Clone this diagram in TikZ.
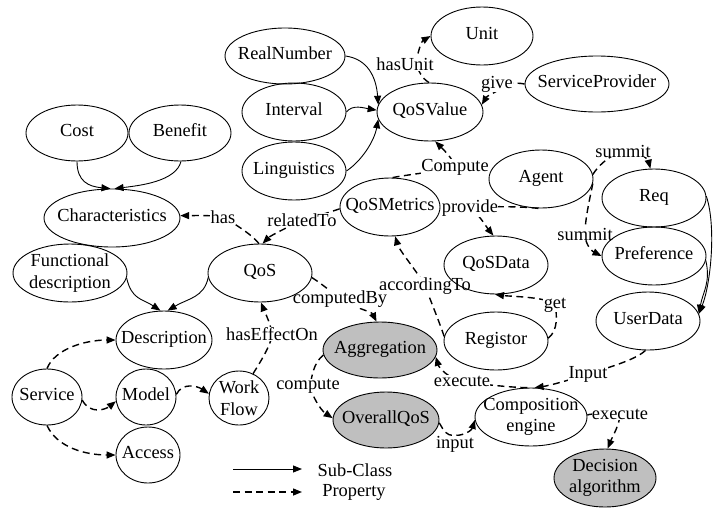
\documentclass[tikz,border=0pt]{standalone}
\usepackage{fontspec}
\setmainfont{Liberation Serif}
\usetikzlibrary{arrows.meta,backgrounds,shapes.geometric}
\newcommand\fsz{\fontsize{18.4}{21.5}\selectfont}
\begin{document}
\begin{tikzpicture}[x=1pt,y=-1pt,
  ent/.style={ellipse, draw, line width=0.9pt, inner sep=0pt},
  gent/.style={ent, fill=black!25},
  txt/.style={inner sep=0pt, font=\fsz, text height=0.66em, text depth=0pt},
  txttwo/.style={inner sep=0pt, font=\fsz, align=center},
  elab/.style={inner sep=0.3pt, fill=white, font=\fsz},
  sub/.style={line width=0.9pt, -{Triangle[length=9pt,width=7pt]}},
  prop/.style={line width=1.4pt, dash pattern=on 7pt off 4.5pt, -{Triangle[length=9pt,width=7pt]}},
]
\useasboundingbox (0,0) rectangle (713,507);

% edge labels
\node[elab] (l-hasunit) at (405,64) {hasUnit};
\node[elab] (l-give) at (497,84) {give};
\node[elab] (l-compute) at (455,167) {Compute};
\node[elab] (l-relatedto) at (302,220) {relatedTo};
\node[elab] (l-has) at (223,217) {has};
\node[elab] (l-provide) at (470,208) {provide};
\node[elab] (l-summit1) at (623,151) {summit};
\node[elab] (l-summit2) at (585,234) {summit};
\node[elab] (l-according) at (425,286) {accordingTo};
\node[elab] (l-get) at (555,305) {get};
\node[elab] (l-computedby) at (340,299) {computedBy};
\node[elab] (l-haseffect) at (272,334) {hasEffectOn};
\node[elab] (l-compute2) at (308,386) {compute};
\node[elab] (l-execute1) at (462,381) {execute};
\node[elab] (l-input1) at (588,374) {Input};
\node[elab] (l-input2) at (455,444) {input};
\node[elab] (l-execute2) at (620,414) {execute};

% ellipses
\node[ent, minimum width=102pt, minimum height=58pt] (unit) at (482,36) {};
\node[ent, minimum width=120pt, minimum height=56pt] (realnumber) at (285,56) {};
\node[ent, minimum width=104pt, minimum height=58pt] (interval) at (294,112) {};
\node[ent, minimum width=104pt, minimum height=58pt] (linguistics) at (294,171) {};
\node[ent, minimum width=106pt, minimum height=58pt] (qosvalue) at (430,112) {};
\node[ent, minimum width=144pt, minimum height=56pt] (servprov) at (597,84) {};
\node[ent, minimum width=102pt, minimum height=56pt] (cost) at (77,133) {};
\node[ent, minimum width=102pt, minimum height=56pt] (benefit) at (180,133) {};
\node[ent, minimum width=136pt, minimum height=58pt] (characteristics) at (112,218) {};
\node[ent, minimum width=114pt, minimum height=58pt] (funcdesc) at (70,273) {};
\node[ent, minimum width=104pt, minimum height=58pt] (qos) at (260,273) {};
\node[ent, minimum width=96pt, minimum height=58pt] (description) at (164,340) {};
\node[ent, minimum width=70pt, minimum height=56pt] (service) at (47,397) {};
\node[ent, minimum width=60pt, minimum height=56pt] (model) at (146,397) {};
\node[ent, minimum width=64pt, minimum height=56pt] (access) at (148,455) {};
\node[ent, minimum width=60pt, minimum height=54pt] (workflow) at (239,398) {};
\node[gent, minimum width=114pt, minimum height=56pt] (aggregation) at (380,350) {};
\node[gent, minimum width=106pt, minimum height=56pt] (overallqos) at (386,420) {};
\node[ent, minimum width=104pt, minimum height=58pt] (registor) at (496,341) {};
\node[ent, minimum width=104pt, minimum height=58pt] (qosdata) at (496,265) {};
\node[ent, minimum width=100pt, minimum height=58pt] (qosmetrics) at (390,207) {};
\node[ent, minimum width=104pt, minimum height=58pt] (agent) at (541,179) {};
\node[ent, minimum width=104pt, minimum height=58pt] (req) at (654,198) {};
\node[ent, minimum width=104pt, minimum height=58pt] (preference) at (654,256) {};
\node[ent, minimum width=104pt, minimum height=58pt] (userdata) at (648,321) {};
\node[ent, minimum width=112pt, minimum height=58pt] (composition) at (531,417) {};
\node[gent, minimum width=102pt, minimum height=58pt] (decision) at (605,478) {};

% texts
\node[txt] (unit-t) at (unit.center) {Unit};
\node[txt] (realnumber-t) at (realnumber.center) {RealNumber};
\node[txt] (interval-t) at (interval.center) {Interval};
\node[txt] (linguistics-t) at (linguistics.center) {Linguistics};
\node[txt] (qosvalue-t) at (qosvalue.center) {QoSValue};
\node[txt] (servprov-t) at (servprov.center) {ServiceProvider};
\node[txt] (cost-t) at (cost.center) {Cost};
\node[txt] (benefit-t) at (benefit.center) {Benefit};
\node[txt] (characteristics-t) at (characteristics.center) {Characteristics};
\node[txttwo] (funcdesc-t) at (funcdesc.center) {Functional\\description};
\node[txt] (qos-t) at (qos.center) {QoS};
\node[txt] (description-t) at (description.center) {Description};
\node[txt] (service-t) at (service.center) {Service};
\node[txt] (model-t) at (model.center) {Model};
\node[txt] (access-t) at (access.center) {Access};
\node[txttwo] (workflow-t) at (workflow.center) {Work\\Flow};
\node[txt] (aggregation-t) at (aggregation.center) {Aggregation};
\node[txt] (overallqos-t) at (overallqos.center) {OverallQoS};
\node[txt] (registor-t) at (registor.center) {Registor};
\node[txt] (qosdata-t) at (qosdata.center) {QoSData};
\node[txt] (qosmetrics-t) at (qosmetrics.center) {QoSMetrics};
\node[txt] (agent-t) at (agent.center) {Agent};
\node[txt] (req-t) at (req.center) {Req};
\node[txt] (preference-t) at (preference.center) {Preference};
\node[txt] (userdata-t) at (userdata.center) {UserData};
\node[txttwo] (composition-t) at (composition.center) {Composition\\engine};
\node[txttwo] (decision-t) at (decision.center) {Decision\\algorithm};

% legend
\coordinate (leg1a) at (233,469);
\coordinate (leg1b) at (302,469);
\coordinate (leg2a) at (233,492);
\coordinate (leg2b) at (302,492);
\node[txt] (leg1t) at (355,473) {Sub-Class};
\node[txt] (leg2t) at (354,493) {Property};

\begin{pgfonlayer}{background}
% sub-class edges
\draw[sub] (realnumber.east) .. controls +(22,3) and +(-2,-28) .. (qosvalue.172);
\draw[sub] (interval.east) .. controls +(6,-8) and +(-12,-2) .. (qosvalue.178);
\draw[sub] (linguistics.east) .. controls +(15,-10) and +(-4,22) .. (qosvalue.188);
\draw[sub] (cost.270) .. controls +(0,20) and +(-22,-2) .. (characteristics.93);
\draw[sub] (benefit.272) .. controls +(-5,20) and +(25,-3) .. (characteristics.85);
\draw[sub] (funcdesc.355) .. controls +(5,22) and +(-18,-12) .. (description.97);
\draw[sub] (qos.185) .. controls +(-4,20) and +(20,-12) .. (description.83);
\draw[sub] (req.2) .. controls +(10,30) and +(12,-30) .. (userdata.8);
\draw[sub] (preference.355) .. controls +(5,22) and +(4,-22) .. (userdata.8);
% property edges
\draw[prop] (qosvalue.92) .. controls +(-8,-5) and +(5,8) .. ([xshift=10pt]l-hasunit.center) .. controls +(3,-10) and +(-10,6) .. (unit.180);
\draw[prop] (servprov.180) .. controls +(-10,-2) and +(8,0) .. (l-give.center) .. controls +(10,5) and +(6,-10) .. (qosvalue.8);
\draw[prop] (qosmetrics.85) .. controls +(15,-3) and +(-20,5) .. (l-compute.center) .. controls +(-2,-8) and +(10,10) .. (qosvalue.280);
\draw[prop] (agent.265) .. controls +(-15,-2) and +(15,-2) .. (l-provide.center) .. controls +(8,5) and +(-8,-10) .. (qosdata.95);
\draw[prop] (agent.5) .. controls +(5,-8) and +(-15,5) .. (l-summit1.center) .. controls +(15,-3) and +(-2,-8) .. (req.97);
\draw[prop] (agent.355) .. controls +(-3,15) and +(0,-15) .. (l-summit2.center) .. controls +(0,10) and +(-10,-5) .. (preference.180);
\draw[prop] (qos.92) .. controls +(-8,-10) and +(10,6) .. (l-has.center) .. controls +(-10,-2) and +(10,0) .. (characteristics.2);
\draw[prop] (qosmetrics.182) .. controls +(-8,3) and +(12,-3) .. (l-relatedto.center) .. controls +(-10,5) and +(8,-8) .. (qos.85);
\draw[prop] (qos.355) .. controls +(8,5) and +(-12,-10) .. (l-computedby.center) .. controls +(12,8) and +(-5,-10) .. (aggregation.97);
\draw[prop] (workflow.60) .. controls +(5,-8) and +(0,10) .. (l-haseffect.center) .. controls +(-1,-10) and +(3,8) .. (qos.272);
\draw[prop] (service.90) .. controls +(8,-20) and +(-30,0) .. (description.180);
\draw[prop] (service.355) .. controls +(8,15) and +(-10,8) .. (model.188);
\draw[prop] (service.270) .. controls +(10,22) and +(-30,0) .. (access.180);
\draw[prop] (model.5) .. controls +(6,-12) and +(-12,-8) .. (workflow.172);
\draw[prop] (aggregation.185) .. controls +(-10,8) and +(2,-10) .. ([xshift=2pt]l-compute2.center) .. controls +(2,10) and +(-12,-8) .. (overallqos.178);
\draw[prop] (registor.175) .. controls +(-5,-15) and +(3,8) .. (l-according.center) .. controls +(-3,-8) and +(4,14) .. (qosmetrics.280);
\draw[prop] (registor.3) .. controls +(10,-8) and +(2,10) .. (l-get.center) .. controls +(-5,-8) and +(15,2) .. (qosdata.268);
\draw[prop] (composition.97) .. controls +(-15,0) and +(15,3) .. (l-execute1.center) .. controls +(-15,-3) and +(3,10) .. (aggregation.353);
\draw[prop] (userdata.265) .. controls +(-10,10) and +(15,-5) .. (l-input1.center) .. controls +(-15,5) and +(15,-2) .. (composition.83);
\draw[prop] (overallqos.357) .. controls +(5,8) and +(-10,0) .. (l-input2.north) .. controls +(10,0) and +(-3,10) .. (composition.183);
\draw[prop] (composition.2) .. controls +(4,-2) and +(-10,0) .. (l-execute2.center) .. controls +(0,10) and +(4,-10) .. (decision.85);
% legend
\draw[sub] (leg1a) -- (leg1b);
\draw[prop] (leg2a) -- (leg2b);
\end{pgfonlayer}
\end{tikzpicture}
\end{document}
